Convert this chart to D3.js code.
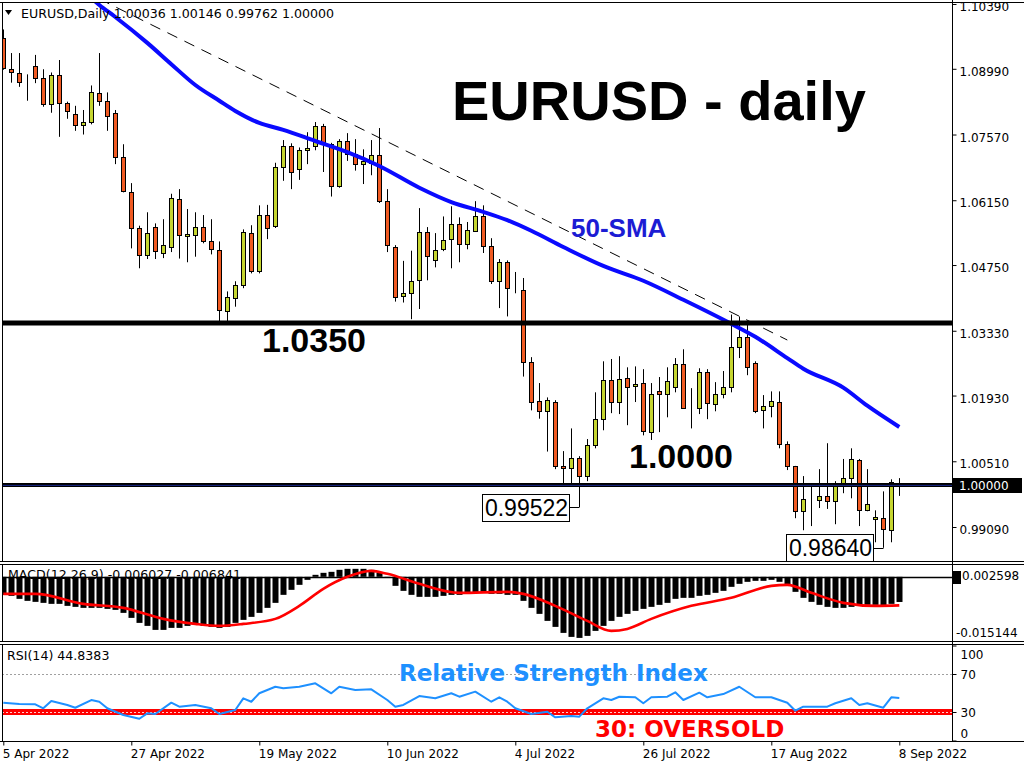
<!DOCTYPE html>
<html><head><meta charset="utf-8">
<script src="https://cdn.jsdelivr.net/npm/d3@7"></script>
<style>body{margin:0;background:#fff;}svg{display:block;}</style>
</head><body>
<svg id="c" width="1024" height="768"></svg>
<script>
// ---------------- DATA ----------------
const open  = [1.0965,1.0898,1.0889,1.0871,1.0904,1.0879,1.0822,1.0885,1.0825,1.0801,
1.0777,1.0784,1.0846,1.0829,1.0803,1.0708,1.0632,1.0555,1.0496,1.0557,
1.0501,1.0515,1.0617,1.0537,1.0539,1.0557,1.0526,1.0507,1.0375,1.0403,
1.0431,1.0544,1.0462,1.0583,1.0560,1.0686,1.0732,1.0682,1.0723,1.0732,
1.0776,1.0737,1.0645,1.0742,1.0714,1.0693,1.0696,1.0713,1.0613,1.0514,
1.0408,1.0414,1.0442,1.0546,1.0485,1.0509,1.0531,1.0563,1.0520,1.0548,
1.0580,1.0516,1.0440,1.0481,1.0423,1.0421,1.0265,1.0181,1.0159,1.0179,
1.0040,1.0036,1.0058,1.0019,1.0086,1.0142,1.0226,1.0179,1.0231,1.0213,
1.0220,1.0114,1.0202,1.0196,1.0211,1.0261,1.0166,1.0166,1.0243,1.0174,
1.0196,1.0211,1.0297,1.0319,1.0263,1.0161,1.0170,1.0179,1.0088,1.0040,
0.9943,0.9968,0.9967,0.9976,0.9965,0.9997,1.0014,1.0053,0.9945,0.9926,
0.9928,0.9902,1.00036];
const high  = [1.0984,1.0933,1.0933,1.0887,1.0929,1.0898,1.0891,1.0918,1.0828,1.0819,
1.0810,1.0863,1.0933,1.0848,1.0810,1.0736,1.0652,1.0560,1.0589,1.0565,
1.0574,1.0629,1.0639,1.0596,1.0589,1.0583,1.0574,1.0526,1.0418,1.0440,
1.0552,1.0561,1.0604,1.0605,1.0696,1.0745,1.0738,1.0729,1.0762,1.0784,
1.0780,1.0739,1.0747,1.0760,1.0747,1.0725,1.0745,1.0771,1.0639,1.0518,
1.0484,1.0506,1.0598,1.0557,1.0544,1.0580,1.0602,1.0578,1.0568,1.0613,
1.0604,1.0533,1.0488,1.0485,1.0460,1.0447,1.0276,1.0220,1.0189,1.0183,
1.0073,1.0122,1.0062,1.0099,1.0200,1.0267,1.0272,1.0278,1.0254,1.0256,
1.0250,1.0220,1.0233,1.0254,1.0274,1.0293,1.0209,1.0252,1.0250,1.0222,
1.0246,1.0368,1.0364,1.0349,1.0267,1.0194,1.0202,1.0202,1.0094,1.0041,
1.0019,0.9997,1.0034,1.0090,1.0008,1.0056,1.0079,1.0056,1.0034,0.9945,
0.9986,1.0012,1.00146];
const low   = [1.0897,1.0869,1.0860,1.0830,1.0868,1.0817,1.0804,1.0752,1.0791,1.0765,
1.0757,1.0779,1.0819,1.0765,1.0693,1.0632,1.0511,1.0468,1.0488,1.0488,
1.0490,1.0503,1.0489,1.0481,1.0493,1.0522,1.0498,1.0354,1.0352,1.0385,
1.0425,1.0457,1.0457,1.0531,1.0555,1.0657,1.0639,1.0659,1.0693,1.0723,
1.0676,1.0623,1.0642,1.0700,1.0679,1.0650,1.0669,1.0609,1.0503,1.0396,
1.0394,1.0358,1.0380,1.0442,1.0470,1.0505,1.0468,1.0481,1.0509,1.0548,
1.0501,1.0434,1.0382,1.0364,1.0414,1.0234,1.0161,1.0143,1.0072,1.0034,
1.0004,1.0004,0.99522,1.0008,1.0079,1.0118,1.0155,1.0153,1.0129,1.0179,
1.0107,1.0097,1.0114,1.0146,1.0200,1.0164,1.0122,1.0153,1.0142,1.0159,
1.0187,1.0200,1.0274,1.0237,1.0155,1.0122,1.0146,1.0079,1.0032,0.9928,
0.9902,0.9911,0.9950,0.9948,0.9915,0.9982,0.9971,0.9911,0.9943,0.9876,
0.98640,0.9876,0.99762];
const close = [1.0900,1.0892,1.0871,1.0871,1.0879,1.0822,1.0886,1.0825,1.0807,1.0777,
1.0784,1.0848,1.0829,1.0797,1.0708,1.0634,1.0555,1.0496,1.0544,1.0505,
1.0518,1.0619,1.0539,1.0542,1.0557,1.0526,1.0509,1.0377,1.0405,1.0431,
1.0546,1.0462,1.0583,1.0555,1.0686,1.0732,1.0676,1.0723,1.0727,1.0776,
1.0737,1.0645,1.0742,1.0714,1.0693,1.0700,1.0713,1.0613,1.0518,1.0405,
1.0414,1.0440,1.0546,1.0494,1.0507,1.0529,1.0563,1.0520,1.0550,1.0580,
1.0516,1.0440,1.0481,1.0425,1.0423,1.0265,1.0180,1.0159,1.0183,1.0040,
1.0036,1.0058,1.0019,1.0086,1.0142,1.0226,1.0179,1.0228,1.0211,1.0218,
1.0116,1.0196,1.0196,1.0224,1.0261,1.0166,1.0166,1.0243,1.0177,1.0196,
1.0211,1.0297,1.0319,1.0254,1.0159,1.0170,1.0181,1.0088,1.0040,0.9943,
0.9969,0.9968,0.9976,0.9965,0.9997,1.0014,1.0056,0.9945,0.9958,0.9930,
0.9904,1.0006,1.00000];

// 50-SMA read at sampled bars
const smaIdx = [11,12,14,18,21,24,27,29,32,35,39,43,47,52,56,60,63,66,70,75,80,85,91,94,98,100,105,108,112];
const smaVal = [1.1052,1.1037,1.1011,1.0955,1.0909,1.0864,1.0830,1.0808,1.0782,1.0767,1.0743,1.0719,1.0689,1.0642,1.0611,1.0590,1.0572,1.0549,1.0514,1.0473,1.0441,1.0400,1.0348,1.0320,1.0274,1.0251,1.0210,1.0171,1.0125];

// dashed trend line (two anchor bars)
const trendIdx = [12, 98];
const trendVal = [1.1050, 1.0313];

// horizontal levels
const levelVals = [1.0350, 1.0000];
const levelLabels = ["1.0350", "1.0000"];

// annotated lows
const noteIdx = [72, 110];
const noteVal = [0.99522, 0.98640];

// MACD main (histogram) per bar
const macdHist = [-0.00432,-0.00456,-0.00528,-0.00576,-0.00600,-0.00624,-0.00648,-0.00648,-0.00696,-0.00720,
-0.00744,-0.00744,-0.00744,-0.00768,-0.00792,-0.00864,-0.00984,-0.01104,-0.01176,-0.01272,
-0.01272,-0.01224,-0.01224,-0.01176,-0.01152,-0.01176,-0.01200,-0.01224,-0.01200,-0.01104,
-0.01032,-0.00960,-0.00864,-0.00744,-0.00624,-0.00432,-0.00312,-0.00192,-0.00072,0.00048,
0.00096,0.00120,0.00168,0.00192,0.00192,0.00192,0.00168,0.00096,-0.00024,-0.00216,
-0.00336,-0.00432,-0.00480,-0.00480,-0.00480,-0.00456,-0.00432,-0.00432,-0.00408,-0.00384,
-0.00384,-0.00408,-0.00408,-0.00432,-0.00432,-0.00576,-0.00744,-0.00888,-0.01056,-0.01200,
-0.01344,-0.01440,-0.01464,-0.01416,-0.01296,-0.01176,-0.01056,-0.00960,-0.00888,-0.00816,
-0.00768,-0.00720,-0.00672,-0.00624,-0.00528,-0.00504,-0.00504,-0.00456,-0.00432,-0.00384,
-0.00336,-0.00240,-0.00168,-0.00120,-0.00096,-0.00096,-0.00072,-0.00120,-0.00216,-0.00360,
-0.00504,-0.00600,-0.00672,-0.00720,-0.00744,-0.00744,-0.00720,-0.00696,-0.00672,-0.00672,
-0.00696,-0.00648,-0.006027];
// MACD signal read at sampled bars
const sigIdx = [0,4,10,15,20,24,27,30,34,37,40,43,46,48,52,57,63,65,69,73,76,78,81,86,91,96,98,101,105,109,112];
const sigVal = [-0.00408,-0.00408,-0.00648,-0.00744,-0.01008,-0.01128,-0.01176,-0.01128,-0.01008,-0.00696,-0.00288,0.0,0.00144,0.00072,-0.00168,-0.00384,-0.00360,-0.00408,-0.00696,-0.01056,-0.01296,-0.01248,-0.01008,-0.00696,-0.00504,-0.00216,-0.00192,-0.00384,-0.00624,-0.00696,-0.006841];
const macdMax = 0.002598, macdMin = -0.015144;

// RSI(14) read at sampled bars
const rsiIdx = [0,2,4,5,6,8,9,11,12,13,15,17,18,19,21,22,24,26,27,29,30,31,32,34,35,37,39,41,42,44,46,48,49,50,52,54,56,57,59,61,62,63,64,66,68,69,71,72,73,75,76,77,79,80,81,83,84,85,87,88,90,92,94,96,98,99,100,103,104,106,107,108,110,111,112];
const rsiVal = [39.8,38.4,38.1,33.9,41.6,37.4,34.5,42.6,40.8,33.9,26.8,22.9,28.6,27.9,39.8,35.6,37.4,33.9,27.9,32.1,44.4,40.8,49.7,56.6,54.9,56.6,60.2,49.7,56.6,53.2,53.9,42.6,35.6,37.4,46.8,44.4,49.7,46.1,51.4,40.8,45.5,40.8,33.9,27.9,30.3,24.4,25.8,25.1,33.9,44.4,42.6,46.1,45.5,39.2,45.5,46.1,50.7,42.6,50.3,45.5,48.9,56.6,45.5,45.5,39.8,31.4,35.6,35.6,39.2,44.4,37.4,39.2,34.5,45.5,44.84];
const rsiLevels = [70, 30];
const rsiTicks = [100, 70, 30, 0];

// axis ticks
const priceTicks = [1.10390,1.08990,1.07570,1.06150,1.04750,1.03330,1.01930,1.00510,0.99090];
const dateTickIdx = [0,16,32,48,64,80,96,112];
const dateTickLabels = ["5 Apr 2022","27 Apr 2022","19 May 2022","10 Jun 2022","4 Jul 2022","26 Jul 2022","17 Aug 2022","8 Sep 2022"];

// ---------------- LAYOUT ----------------
const W = 1024, H = 768;
const L = 2, R = 952;
const mainTop = 2, mainBot = 561, macdTop = 564, macdBot = 641, rsiTop = 644, rsiBot = 741;
const SANS = "'DejaVu Sans', Verdana, sans-serif";
const ARIAL = "'Liberation Sans', Arial, sans-serif";
const UP = "#C5D530", DOWN = "#F05A22";

const svg = d3.select("#c");
svg.append("rect").attr("width", W).attr("height", H).attr("fill", "#fff");

const x = d3.scaleLinear().domain([0, 112]).range([3.3, 899.3]);
const y = d3.scaleLinear().domain([0.9909, 1.1039]).range([527, 4]);
const yM = d3.scaleLinear().domain([macdMin, macdMax]).range([640, 566]);
const yR = d3.scaleLinear().domain([0, 100]).range([740.5, 645.5]);

const defs = svg.append("defs");
defs.append("clipPath").attr("id", "clipMain").append("rect")
  .attr("x", L).attr("y", mainTop).attr("width", R - L).attr("height", mainBot - mainTop);
defs.append("clipPath").attr("id", "clipMacd").append("rect")
  .attr("x", L).attr("y", macdTop).attr("width", R - L).attr("height", macdBot - macdTop);
defs.append("clipPath").attr("id", "clipRsi").append("rect")
  .attr("x", L).attr("y", rsiTop).attr("width", R - L).attr("height", rsiBot - rsiTop);

// ---------------- MAIN PANEL ----------------
const gMain = svg.append("g").attr("clip-path", "url(#clipMain)");
const bars = open.map((o, i) => ({i, o, h: high[i], l: low[i], c: close[i]}));
const cx = d => Math.round(x(d.i));

const gC = gMain.append("g");
gC.selectAll("line.wick").data(bars).join("line")
  .attr("x1", d => cx(d) + 0.5).attr("x2", d => cx(d) + 0.5)
  .attr("y1", d => y(d.h)).attr("y2", d => y(d.l))
  .attr("stroke", "#000").attr("stroke-width", 1);
gC.selectAll("rect.body").data(bars).join("rect")
  .attr("x", d => cx(d) - 1.5).attr("width", 4)
  .attr("y", d => Math.round(y(Math.max(d.o, d.c))) + 0.5)
  .attr("height", d => Math.max(0, Math.round(y(Math.min(d.o, d.c))) - Math.round(y(Math.max(d.o, d.c)))))
  .attr("fill", d => d.c > d.o ? UP : (d.c < d.o ? DOWN : "#000"))
  .attr("stroke", "#000").attr("stroke-width", 1);

// 50-SMA
const smaPts = smaIdx.map((k, j) => [x(k), y(smaVal[j])]);
gMain.append("path").attr("d", d3.line().curve(d3.curveMonotoneX)(smaPts))
  .attr("fill", "none").attr("stroke", "#0a0aff").attr("stroke-width", 4).attr("stroke-linejoin", "round");

// trend line
gMain.append("line")
  .attr("x1", x(trendIdx[0])).attr("y1", y(trendVal[0]))
  .attr("x2", x(trendIdx[1])).attr("y2", y(trendVal[1]))
  .attr("stroke", "#000").attr("stroke-width", 1).attr("stroke-dasharray", "11,8");

// horizontal levels
gMain.append("line").attr("x1", L).attr("x2", R).attr("y1", y(levelVals[0])).attr("y2", y(levelVals[0]))
  .attr("stroke", "#000").attr("stroke-width", 5);
gMain.append("line").attr("x1", L).attr("x2", R).attr("y1", y(levelVals[1])).attr("y2", y(levelVals[1]))
  .attr("stroke", "#000").attr("stroke-width", 4);
gMain.append("line").attr("x1", L).attr("x2", R).attr("y1", y(levelVals[1]) + 0.5).attr("y2", y(levelVals[1]) + 0.5)
  .attr("stroke", "#1b2a8c").attr("stroke-width", 1);

// annotation boxes for lows
noteIdx.forEach((k, j) => {
  const px = x(k), py = y(noteVal[j]);
  const bw = 87, bh = 27;
  const bx = Math.round(px) - 10 - bw;
  gMain.append("line").attr("x1", bx + bw).attr("x2", Math.round(px) + 0.5)
    .attr("y1", Math.round(py) + 0.5).attr("y2", Math.round(py) + 0.5).attr("stroke", "#000");
  gMain.append("rect").attr("x", bx + 0.5).attr("y", Math.round(py - bh / 2) + 0.5)
    .attr("width", bw).attr("height", bh).attr("fill", "#fff").attr("stroke", "#000");
  gMain.append("text").attr("x", bx + bw / 2 + 1).attr("y", py + 8.5)
    .attr("text-anchor", "middle").attr("font-family", ARIAL).attr("font-size", 23)
    .attr("fill", "#000").text(noteVal[j].toFixed(5));
});

// texts
svg.append("text").attr("x", 452).attr("y", 120).attr("font-family", ARIAL).attr("font-weight", "bold")
  .attr("font-size", 56).attr("fill", "#000").text("EURUSD - daily");
svg.append("text").attr("x", 262).attr("y", 352).attr("font-family", ARIAL).attr("font-weight", "bold")
  .attr("font-size", 34).attr("fill", "#000").text(levelLabels[0]);
svg.append("text").attr("x", 629).attr("y", 468).attr("font-family", ARIAL).attr("font-weight", "bold")
  .attr("font-size", 34).attr("fill", "#000").text(levelLabels[1]);
svg.append("text").attr("x", 571).attr("y", 237).attr("font-family", ARIAL).attr("font-weight", "bold")
  .attr("font-size", 26).attr("fill", "#1c1cd4").text("50-SMA");

// header
svg.append("path").attr("d", "M5,10 L12,10 L8.5,15 Z").attr("fill", "#000");
svg.append("text").attr("x", 21).attr("y", 18).attr("font-family", SANS).attr("font-size", 12.6)
  .attr("fill", "#000").text("EURUSD,Daily  1.00036 1.00146 0.99762 1.00000");

// ---------------- MACD PANEL ----------------
svg.append("text").attr("x", 8).attr("y", 579).attr("font-family", SANS).attr("font-size", 12.6)
  .attr("fill", "#000").text("MACD(12,26,9) -0.006027 -0.006841");
const gMacd = svg.append("g").attr("clip-path", "url(#clipMacd)");
gMacd.append("line").attr("x1", L).attr("x2", R).attr("y1", Math.round(yM(0)) + 0.5).attr("y2", Math.round(yM(0)) + 0.5)
  .attr("stroke", "#000").attr("stroke-width", 1.5);
gMacd.selectAll("rect.h").data(macdHist).join("rect")
  .attr("x", (d, i) => Math.round(x(i)) - 2.5).attr("width", 6)
  .attr("y", d => Math.min(yM(0), yM(d))).attr("height", d => Math.abs(yM(d) - yM(0)))
  .attr("fill", "#000");
const sigPts = sigIdx.map((k, j) => [x(k), yM(sigVal[j])]);
gMacd.append("path").attr("d", d3.line().curve(d3.curveMonotoneX)(sigPts))
  .attr("fill", "none").attr("stroke", "#ff0000").attr("stroke-width", 2.6);

// ---------------- RSI PANEL ----------------
svg.append("text").attr("x", 7).attr("y", 660).attr("font-family", SANS).attr("font-size", 12.6)
  .attr("fill", "#000").text("RSI(14) 44.8383");
const gRsi = svg.append("g").attr("clip-path", "url(#clipRsi)");
gRsi.append("line").attr("x1", L).attr("x2", R).attr("y1", Math.round(yR(rsiLevels[0])) + 0.5).attr("y2", Math.round(yR(rsiLevels[0])) + 0.5)
  .attr("stroke", "#a0a0a0").attr("stroke-width", 1).attr("stroke-dasharray", "2,2");
gRsi.append("line").attr("x1", L).attr("x2", R).attr("y1", yR(rsiLevels[1])).attr("y2", yR(rsiLevels[1]))
  .attr("stroke", "#ff0000").attr("stroke-width", 6);
gRsi.append("line").attr("x1", L).attr("x2", R).attr("y1", Math.round(yR(rsiLevels[1])) + 0.5).attr("y2", Math.round(yR(rsiLevels[1])) + 0.5)
  .attr("stroke", "#ffd0d0").attr("stroke-width", 1).attr("stroke-dasharray", "2,2");
const rsiPts = rsiIdx.map((k, j) => [x(k), yR(rsiVal[j])]);
gRsi.append("path").attr("d", d3.line()(rsiPts))
  .attr("fill", "none").attr("stroke", "#1E90FF").attr("stroke-width", 2).attr("stroke-linejoin", "round");
svg.append("text").attr("x", 399).attr("y", 681).attr("font-family", SANS).attr("font-weight", "bold")
  .attr("font-size", 23).attr("fill", "#1E90FF").text("Relative Strength Index");
svg.append("text").attr("x", 595).attr("y", 737).attr("font-family", SANS).attr("font-weight", "bold")
  .attr("font-size", 23).attr("fill", "#ff0000").text("30: OVERSOLD");

// ---------------- FRAMES ----------------
const frame = svg.append("g").attr("stroke", "#000").attr("stroke-width", 1).attr("fill", "none");
[[mainTop, mainBot], [macdTop, macdBot], [rsiTop, rsiBot]].forEach(([t, b]) => {
  frame.append("line").attr("x1", 0).attr("x2", W).attr("y1", t + 0.5).attr("y2", t + 0.5);
  frame.append("line").attr("x1", 0).attr("x2", W).attr("y1", b + 0.5).attr("y2", b + 0.5);
  frame.append("line").attr("x1", L + 0.5).attr("x2", L + 0.5).attr("y1", t).attr("y2", b + 1);
});
frame.append("line").attr("x1", R + 0.5).attr("x2", R + 0.5).attr("y1", 0).attr("y2", rsiBot + 1);

// ---------------- AXES ----------------
const axP = svg.append("g").attr("transform", `translate(${R + 0.5},0)`)
  .call(d3.axisRight(y).tickValues(priceTicks).tickFormat(d3.format(".5f")).tickSize(4).tickPadding(3));
axP.select(".domain").remove();
axP.selectAll("text").attr("font-family", SANS).attr("font-size", 12).attr("fill", "#000").attr("dy", "0.55em");
axP.selectAll("line").attr("stroke", "#000");

// current price box
svg.append("rect").attr("x", R + 1).attr("y", Math.round(y(close[112])) - 7).attr("width", 69).attr("height", 15).attr("fill", "#000");
svg.append("text").attr("x", R + 7).attr("y", Math.round(y(close[112])) + 5).attr("font-family", SANS)
  .attr("font-size", 12).attr("fill", "#fff").text(close[112].toFixed(5));

// MACD axis labels
svg.append("rect").attr("x", R + 1).attr("y", Math.round(yM(0)) - 6).attr("width", 8).attr("height", 13).attr("fill", "#000");
svg.append("text").attr("x", R + 10).attr("y", 580).attr("font-family", SANS).attr("font-size", 12)
  .attr("fill", "#000").text(macdMax.toFixed(6));
svg.append("text").attr("x", R + 4).attr("y", 637).attr("font-family", SANS).attr("font-size", 12)
  .attr("fill", "#000").text(macdMin.toFixed(6));

// RSI axis
const axR = svg.append("g").attr("transform", `translate(${R + 0.5},0)`)
  .call(d3.axisRight(yR).tickValues(rsiTicks).tickFormat(d3.format("d")).tickSize(4).tickPadding(4));
axR.select(".domain").remove();
axR.selectAll("text").attr("font-family", SANS).attr("font-size", 12).attr("fill", "#000")
  .attr("dy", d => d === 100 ? "1.05em" : (d === 0 ? "-0.25em" : "0.35em"));
axR.selectAll("line").attr("stroke", "#000");

// date axis
const axD = svg.append("g").attr("transform", `translate(0,${rsiBot + 0.5})`)
  .call(d3.axisBottom(x).tickValues(dateTickIdx).tickFormat((d, k) => dateTickLabels[k]).tickSize(4).tickPadding(4));
axD.select(".domain").remove();
axD.selectAll("line").attr("stroke", "#000");
axD.selectAll("text").attr("font-family", SANS).attr("font-size", 12).attr("fill", "#000")
  .attr("text-anchor", "start").attr("dx", -1);
</script>
</body></html>
